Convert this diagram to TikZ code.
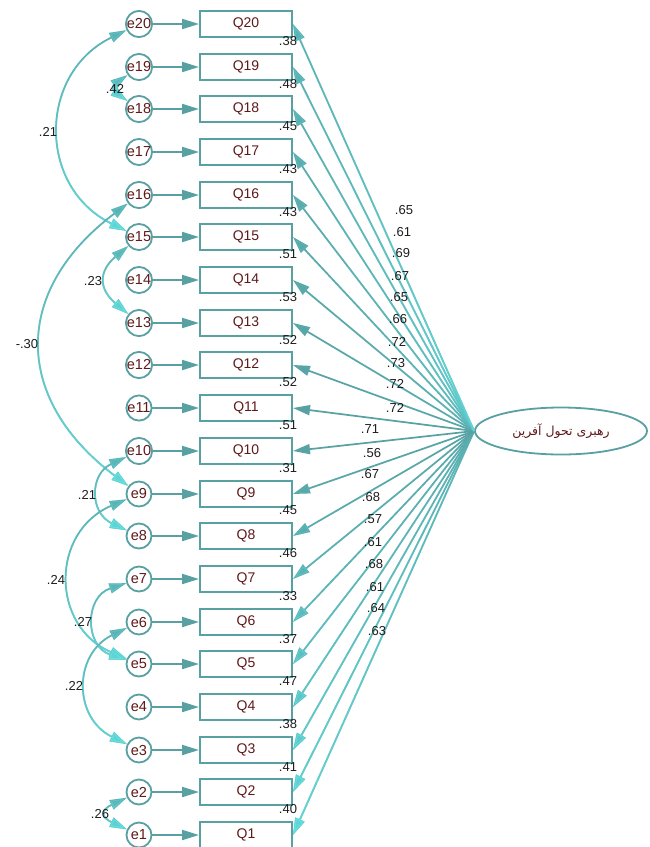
\documentclass[tikz,border=0pt]{standalone}
\usepackage{fontspec}
\setmainfont{Liberation Sans}
\newfontfamily\arabicfont[Script=Arabic]{DejaVu Sans}
\TeXXeTstate=1
\usetikzlibrary{arrows.meta,fadings,shapes.geometric}
\definecolor{tealA}{RGB}{88,160,162}
\definecolor{cyanA}{RGB}{100,232,232}
\definecolor{txtred}{RGB}{95,25,25}
\definecolor{numcol}{RGB}{30,30,30}
\pgfdeclareverticalshading{fadeshade}{100pt}{color(0pt)=(pgftransparent!0); color(100pt)=(pgftransparent!100)}
\pgfdeclarefading{fadedown}{\pgfuseshading{fadeshade}}
\tikzset{
  err/.style={circle, draw=tealA, line width=1.8pt, minimum size=25pt, inner sep=0pt, fill=white, text=txtred, font=\fontsize{14.5}{14.5}\selectfont},
  obs/.style={rectangle, draw=tealA, line width=2pt, minimum width=92pt, minimum height=26pt, inner sep=0pt, fill=white, text=txtred, font=\fontsize{14}{14}\selectfont},
  lat/.style={ellipse, draw=tealA, line width=1.8pt, minimum width=172pt, minimum height=47pt, inner sep=0pt, fill=white, text=txtred},
  num/.style={inner sep=0pt, text=numcol, font=\fontsize{13}{13}\selectfont},
  tip/.tip={Triangle[length=17pt,width=10pt]},
  arr/.style={draw=tealA, line width=2pt, -tip},
  load/.style={draw=tealA, line width=1.7pt, -tip},
  cov/.style={draw=tealA, line width=1.7pt, tip-tip},
  covfade/.style={cov, draw=cyanA, path fading=fadedown},
}
\newcommand{\covarc}[5]{%
  \draw[cov] (#1) to[out=#3,in=#4,distance=#5] (#2);
  \draw[covfade] (#1) to[out=#3,in=#4,distance=#5] (#2);}
\begin{document}
\begin{tikzpicture}[x=1pt,y=1pt]
\path[use as bounding box, fill=white] (0,0) rectangle (649,-847);
% latent
\node[lat] (lat) at (561,-431) {\arabicfont\fontsize{12.5}{14}\selectfont\beginR رهبری تحول آفرین\endR};
% rows
\foreach \i in {1,...,20}{
  \pgfmathsetmacro\yy{round(835-(\i-1)*42.684)}
  \node[err] (e\i) at (139,-\yy) {e\i};
  \node[obs] (Q\i) at (246,-\yy) {Q\i};
  \draw[arr] (e\i) -- (Q\i);
}
% loadings
\foreach \i in {1,...,20}{
  \pgfmathsetmacro\yy{round(835-(\i-1)*42.684)}
  \pgfmathsetmacro\kk{min(1,abs(\yy-431)/400)}
  \draw[load] (lat.west) -- (Q\i.east);
  \draw[load, draw=cyanA, opacity=\kk, path fading=fadedown] (lat.west) -- (Q\i.east);
}
% squared multiple correlations
\foreach \i/\v in {20/.38,19/.48,18/.45,17/.43,16/.43,15/.51,14/.53,13/.52,12/.52,11/.51,10/.31,9/.45,8/.46,7/.33,6/.37,5/.47,4/.38,3/.41,2/.40}{
  \pgfmathsetmacro\yy{835-(\i-1)*42.684+17}
  \node[num] (r\i) at (288,-\yy) {\v};
}
% loading labels
\foreach \n/\x/\y/\v in {1/404/210/.65,2/402/232/.61,3/401/253/.69,4/400/276/.67,5/399/297/.65,6/398/319/.66,7/397/342/.72,8/396/363/.73,9/395/384/.72,10/395/408/.72,11/370/429/.71,12/372/453/.56,13/370/474/.67,14/371/497/.68,15/373/519/.57,16/373/542/.61,17/374/564/.68,18/375/587/.61,19/376/608/.64,20/377/631/.63}{
  \node[num] (l\n) at (\x,-\y) {\v};
}
% covariances
\covarc{e20}{e15}{206}{154}{99}
\covarc{e19}{e18}{215}{145}{18}
\covarc{e16}{e9}{217}{143}{145}
\covarc{e15}{e13}{220}{140}{39}
\covarc{e10}{e8}{205}{155}{41}
\covarc{e9}{e5}{203}{157}{83}
\covarc{e7}{e5}{198}{162}{44}
\covarc{e6}{e3}{206}{154}{60}
\covarc{e2}{e1}{205}{155}{29}
\foreach \n/\x/\y/\v in {a/48/132/.21,b/115/89/.42,c/27/344/-.30,d/93/281/.23,e/87/495/.21,f/56/580/.24,g/83/622/.27,h/74/686/.22,i/100/814/.26}{
  \node[num] (c\n) at (\x,-\y) {\v};
}
\end{tikzpicture}
\end{document}
